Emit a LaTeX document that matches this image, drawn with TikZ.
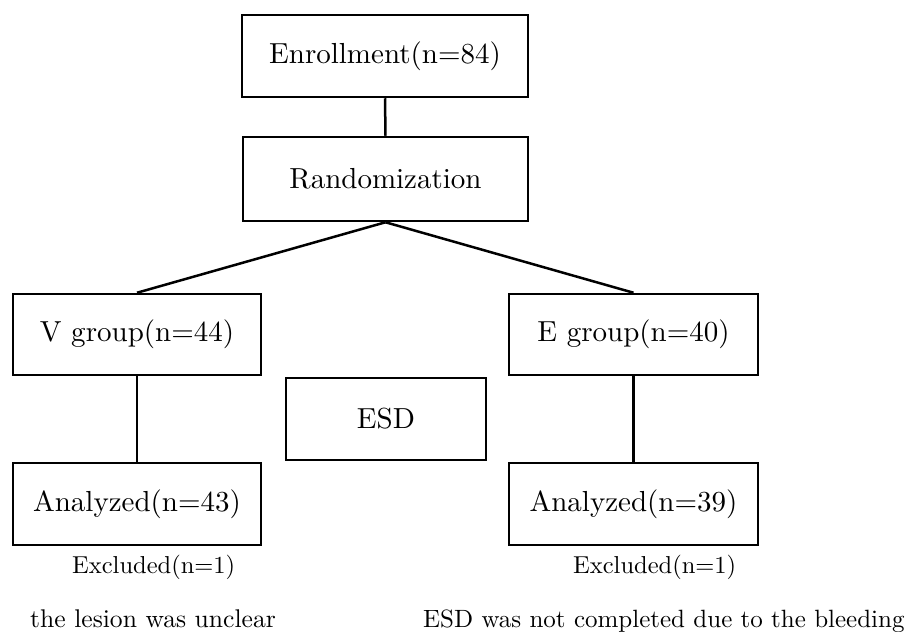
\documentclass[tikz,border=0pt]{standalone}
\usepackage{fontspec}
\setmainfont{lmroman10-regular}[Extension=.otf]
\begin{document}
\begin{tikzpicture}[x=1pt,y=-1pt,
  box/.style={draw=black,line width=2.5pt,rectangle,inner sep=0pt,
    font=\fontsize{29}{34}\selectfont},
  conn/.style={draw=black,line width=2.5pt},
  smalltxt/.style={inner sep=0pt,font=\fontsize{24.5}{28}\selectfont},
  bottxt/.style={inner sep=0pt,font=\fontsize{25}{30}\selectfont}]
\useasboundingbox (0,0) rectangle (911,632);
\node[box,minimum width=286pt,minimum height=82pt] (enroll) at (385,56) {Enrollment(n=84)};
\node[box,minimum width=285pt,minimum height=84pt] (rand) at (385.5,179) {Randomization};
\node[box,minimum width=248pt,minimum height=81pt] (vg) at (137,334.5) {V group(n=44)};
\node[box,minimum width=249pt,minimum height=81pt] (eg) at (633.5,334.5) {E group(n=40)};
\node[box,minimum width=200pt,minimum height=82pt] (esd) at (386,419) {ESD};
\node[box,minimum width=248pt,minimum height=82pt] (av) at (137,504) {Analyzed(n=43)};
\node[box,minimum width=249pt,minimum height=82pt] (ae) at (633.5,504) {Analyzed(n=39)};
\node[smalltxt,anchor=base west] (exv) at (72,573) {Excluded(n=1)};
\node[smalltxt,anchor=base west] (exe) at (573,573) {Excluded(n=1)};
\node[bottxt,anchor=base west,font=\fontsize{25.6}{30}\selectfont] (rv) at (30,627) {the lesion was unclear};
\node[bottxt,anchor=base west] (re) at (423,627) {ESD was not completed due to the bleeding};
\draw[conn] (enroll.south) -- (rand.north);
\draw[conn] (rand.south) -- (vg.north);
\draw[conn] (rand.south) -- (eg.north);
\draw[conn] (vg.south) -- (av.north);
\draw[conn] (eg.south) -- (ae.north);
\end{tikzpicture}
\end{document}
